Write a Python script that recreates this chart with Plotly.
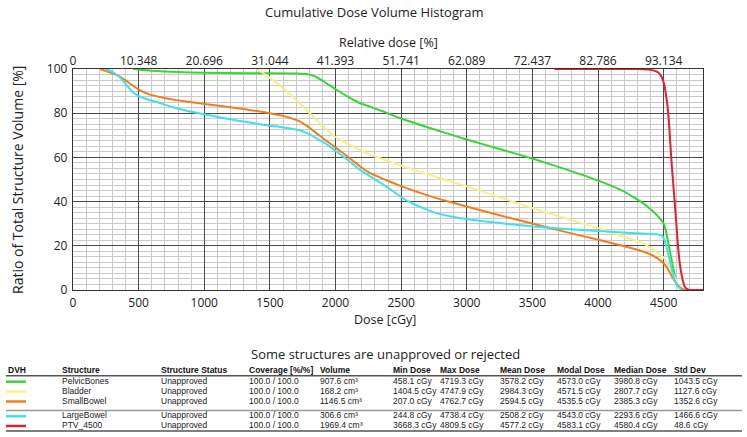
import plotly.graph_objects as go

# ---------------- data ----------------
structures = ["PelvicBones", "Bladder", "SmallBowel", "LargeBowel", "PTV_4500"]
colors = ["#35d635", "#f7f08a", "#f07e1f", "#3ee0f0", "#e3202b"]

pelvic_dose = [458, 600, 800, 1000, 1300, 1700, 1780, 1850, 1920, 2007, 2100, 2185, 2362, 2490, 2718, 3005, 3250, 3505, 3750, 4003, 4200, 4343, 4420, 4470, 4500, 4520, 4540, 4571, 4595, 4620, 4660]
pelvic_vol = [100, 99.2, 98.6, 98.3, 98.1, 98, 97.7, 96.5, 94, 90.6, 87.3, 84.6, 80.8, 77.8, 73.3, 68, 63.8, 59.4, 54.7, 49.5, 44.5, 39.3, 35.5, 32.5, 30, 26, 20, 10.6, 4, 1, 0]

bladder_dose = [1404, 1500, 1600, 1700, 1803, 1900, 1981, 2050, 2133, 2261, 2362, 2616, 2870, 3005, 3250, 3505, 3750, 4003, 4200, 4343, 4450, 4495, 4530, 4559, 4590, 4622, 4660]
bladder_vol = [100, 96, 91.5, 86, 80, 74.5, 70, 67.5, 65, 61.2, 59.2, 54, 49.2, 46.8, 42, 37, 32.5, 28, 24, 21.2, 17, 15, 12, 9, 5, 1.5, 0]

smallbowel_dose = [207, 280, 357, 420, 495, 580, 661, 800, 990, 1200, 1422, 1499, 1600, 1727, 1800, 1854, 1930, 2007, 2100, 2185, 2261, 2362, 2500, 2616, 2800, 3005, 3250, 3505, 3750, 4003, 4200, 4343, 4420, 4470, 4521, 4560, 4597, 4640, 4680]
smallbowel_vol = [100, 98.5, 96.6, 94, 90.9, 88.5, 87.3, 85.8, 84.3, 82.7, 80.8, 80, 78.8, 76.3, 73.5, 71, 67.5, 64.2, 60, 56, 53, 50.3, 47, 44.5, 41, 37.7, 33.8, 30, 26.3, 22.7, 19.8, 17.4, 15.5, 13.6, 10.6, 6.5, 3, 0.5, 0]

largebowel_dose = [245, 290, 331, 370, 407, 450, 495, 580, 661, 800, 990, 1219, 1346, 1499, 1575, 1727, 1800, 1854, 1930, 2007, 2100, 2185, 2261, 2388, 2514, 2650, 2769, 2900, 3005, 3250, 3505, 3750, 4003, 4250, 4445, 4480, 4500, 4515, 4546, 4565, 4584, 4610, 4640]
largebowel_vol = [100, 99, 97.4, 95.5, 92.8, 89.8, 87.9, 86, 84.6, 82, 79.6, 77, 75.8, 74.3, 73.8, 72.3, 70.5, 68.7, 66, 62.7, 58.5, 54.4, 51.5, 46.8, 41.5, 37.5, 34.8, 33, 32, 30.3, 28.7, 27.6, 26.7, 25.8, 25.2, 24.8, 23.5, 21, 13.6, 8.5, 4.5, 1.5, 0]

ptv_dose = [3668, 4300, 4400, 4445, 4470, 4483, 4495, 4508, 4520, 4533, 4545, 4559, 4572, 4585, 4598, 4610, 4623, 4635, 4648, 4661, 4680, 4700, 4800]
ptv_vol = [100, 100, 99.6, 98.9, 97.8, 96.6, 95, 92, 87.5, 81.6, 72, 58.9, 49, 39.3, 29, 19.6, 12, 7.6, 3.8, 1.5, 0.4, 0, 0]

dose_ticks = [0, 500, 1000, 1500, 2000, 2500, 3000, 3500, 4000, 4500]
relative_labels = ["0", "10.348", "20.696", "31.044", "41.393", "51.741", "62.089", "72.437", "82.786", "93.134"]
volume_ticks = [0, 20, 40, 60, 80, 100]

table_header = ["DVH", "Structure", "Structure Status", "Coverage [%/%]", "Volume", "Min Dose", "Max Dose", "Mean Dose", "Modal Dose", "Median Dose", "Std Dev"]
status = ["Unapproved"] * 5
coverage = ["100.0 / 100.0"] * 5
volume = ["907.6 cm³", "168.2 cm³", "1146.5 cm³", "306.6 cm³", "1969.4 cm³"]
min_dose = ["458.1 cGy", "1404.5 cGy", "207.0 cGy", "244.8 cGy", "3668.3 cGy"]
max_dose = ["4719.3 cGy", "4747.9 cGy", "4762.7 cGy", "4738.4 cGy", "4809.5 cGy"]
mean_dose = ["3578.2 cGy", "2984.3 cGy", "2594.5 cGy", "2508.2 cGy", "4577.2 cGy"]
modal_dose = ["4573.0 cGy", "4571.5 cGy", "4535.5 cGy", "4543.0 cGy", "4583.1 cGy"]
median_dose = ["3980.8 cGy", "2807.7 cGy", "2385.3 cGy", "2293.6 cGy", "4580.4 cGy"]
std_dev = ["1043.5 cGy", "1127.6 cGy", "1352.6 cGy", "1466.6 cGy", "48.6 cGy"]

# ---------------- layout geometry ----------------
W, H = 747, 437
L, R, T, B = 73, 703, 69, 290  # plot area in pixels

def px(x):
    return (x - L) / (R - L)

def py(y):
    return (B - y) / (B - T)

fig = go.Figure()

series = [(pelvic_dose, pelvic_vol), (bladder_dose, bladder_vol), (smallbowel_dose, smallbowel_vol),
          (largebowel_dose, largebowel_vol), (ptv_dose, ptv_vol)]
for name, col, (d, v) in zip(structures, colors, series):
    fig.add_trace(go.Scatter(x=d, y=v, mode="lines", name=name,
                             line=dict(color=col, width=2, shape="spline", smoothing=0.4),
                             showlegend=False, hoverinfo="skip"))

# invisible trace for top axis
fig.add_trace(go.Scatter(x=[0, 4800], y=[0, 0], xaxis="x2", mode="lines",
                         line=dict(width=0), showlegend=False, hoverinfo="skip"))

tick_font = dict(family="Open Sans, Noto Sans, sans-serif", size=12, color="#222")

fig.update_layout(
    width=W, height=H,
    margin=dict(l=L, r=W - R, t=T, b=H - B),
    plot_bgcolor="white", paper_bgcolor="white",
    xaxis=dict(range=[0, 4800], tickvals=dose_ticks, showgrid=True, gridcolor="#4a4a4a", gridwidth=1.3,
               minor=dict(dtick=100, tick0=0, showgrid=True, gridcolor="#cacaca", gridwidth=1),
               showline=True, linecolor="#333", linewidth=1.3, mirror=True, zeroline=False,
               tickfont=tick_font, ticks="", ticklabelstandoff=1),
    xaxis2=dict(range=[0, 4800], overlaying="x", side="top", tickvals=dose_ticks, ticktext=relative_labels,
                showgrid=False, zeroline=False, tickfont=tick_font, ticks="", ticklabelstandoff=1),
    yaxis=dict(range=[0, 100], tickvals=volume_ticks, showgrid=True, gridcolor="#4a4a4a", gridwidth=1.3,
               minor=dict(dtick=2.5, tick0=0, showgrid=True, gridcolor="#cacaca", gridwidth=1),
               showline=True, linecolor="#333", linewidth=1.3, mirror=True, zeroline=False,
               tickfont=tick_font, ticks="", ticklabelstandoff=2),
)

ann_font = dict(family="Open Sans, Noto Sans, sans-serif", color="#222")
annotations = [
    dict(text="Cumulative Dose Volume Histogram", x=px(374), y=py(12), font=dict(size=13, **ann_font)),
    dict(text="Relative dose [%]", x=px(388), y=py(43), font=dict(size=12.5, **ann_font)),
    dict(text="Dose [cGy]", x=px(385), y=py(319), font=dict(size=12.5, **ann_font)),
    dict(text="Ratio of Total Structure Volume [%]", x=px(17), y=py(180), textangle=-90,
         font=dict(size=14, **ann_font)),
    dict(text="Some structures are unapproved or rejected", x=px(385), y=py(354), font=dict(size=13, **ann_font)),
]

col_x = [6, 60, 159, 247, 318, 391, 438, 498, 555, 612, 672]
header_y = 370
row_y = [380.7, 390.5, 400.5, 415.3, 425]
tbl_fam = "Liberation Sans, Arial, sans-serif"
tbl_font = dict(family=tbl_fam, size=8.5, color="#222")
hdr_font = dict(family=tbl_fam, size=8.5, color="#111", weight="bold")

for cx, h in zip(col_x, table_header):
    annotations.append(dict(text=h, x=px(cx), y=py(header_y), xanchor="left", font=hdr_font))

columns = [structures, status, coverage, volume, min_dose, max_dose, mean_dose, modal_dose, median_dose, std_dev]
for ci, col in enumerate(columns):
    for ri, val in enumerate(col):
        annotations.append(dict(text=val, x=px(col_x[ci + 1]), y=py(row_y[ri]), xanchor="left", font=tbl_font))

for a in annotations:
    a.update(xref="paper", yref="paper", showarrow=False)
    a.setdefault("xanchor", "center")
    a.setdefault("yanchor", "middle")
fig.update_layout(annotations=annotations)

shapes = [
    dict(type="line", x0=px(6), x1=px(742), y0=py(375.7), y1=py(375.7), line=dict(color="#555", width=1.5)),
    dict(type="line", x0=px(6), x1=px(742), y0=py(410.5), y1=py(410.5), line=dict(color="#999", width=1.5)),
    dict(type="line", x0=px(6), x1=px(742), y0=py(431), y1=py(431), line=dict(color="#555", width=1.5)),
]
for ri, c in enumerate(colors):
    shapes.append(dict(type="line", x0=px(6), x1=px(26), y0=py(row_y[ri] + 1), y1=py(row_y[ri] + 1),
                       line=dict(color=c, width=2.5)))
for s in shapes:
    s.update(xref="paper", yref="paper")
fig.update_layout(shapes=shapes)

fig.write_html("out.html", config={"displayModeBar": False},
               post_script="document.body.style.margin='0';document.body.style.overflow='hidden';")
